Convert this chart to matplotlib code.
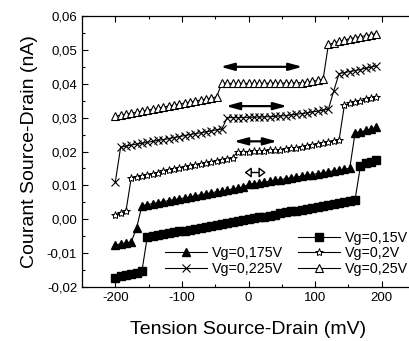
import matplotlib
matplotlib.use("Agg")
import matplotlib.pyplot as plt
from matplotlib.lines import Line2D
from matplotlib.ticker import MultipleLocator, FuncFormatter

plt.rcParams['font.family'] = ['Liberation Sans', 'DejaVu Sans']

x = [-200, -192, -184, -176, -168, -160, -152, -144, -136, -128,
     -120, -112, -104, -96, -88, -80, -72, -64, -56, -48,
     -40, -32, -24, -16, -8, 0, 8, 16, 24, 32,
     40, 48, 56, 64, 72, 80, 88, 96, 104, 112,
     120, 128, 136, 144, 152, 160, 168, 176, 184, 192]

vg015 = [-0.0172, -0.0168, -0.0165, -0.0162, -0.0158, -0.0153, -0.0052, -0.0050, -0.0047, -0.0045,
         -0.0042, -0.0039, -0.0036, -0.0034, -0.0031, -0.0028, -0.0025, -0.0022, -0.0020, -0.0017,
         -0.0014, -0.0011, -0.0008, -0.0006, -0.0003, 0.0000, 0.0003, 0.0006, 0.0008, 0.0011,
         0.0014, 0.0017, 0.0020, 0.0023, 0.0025, 0.0028, 0.0031, 0.0034, 0.0037, 0.0040,
         0.0043, 0.0046, 0.0049, 0.0052, 0.0055, 0.0058, 0.0156, 0.0166, 0.0170, 0.0174]

vg0175 = [-0.0076, -0.0073, -0.0070, -0.0067, -0.0025, 0.0040, 0.0043, 0.0046, 0.0049, 0.0052,
          0.0055, 0.0058, 0.0060, 0.0063, 0.0066, 0.0069, 0.0072, 0.0075, 0.0078, 0.0081,
          0.0083, 0.0086, 0.0089, 0.0092, 0.0095, 0.0103, 0.0105, 0.0107, 0.0110, 0.0112,
          0.0115, 0.0117, 0.0120, 0.0122, 0.0125, 0.0127, 0.0130, 0.0132, 0.0135, 0.0137,
          0.0140, 0.0143, 0.0145, 0.0148, 0.0150, 0.0255, 0.0258, 0.0262, 0.0267, 0.0271]

vg02 = [0.0014, 0.0018, 0.0024, 0.0123, 0.0126, 0.0129, 0.0132, 0.0135, 0.0138, 0.0141,
        0.0144, 0.0148, 0.0151, 0.0154, 0.0157, 0.0160, 0.0163, 0.0166, 0.0169, 0.0172,
        0.0176, 0.0179, 0.0182, 0.0200, 0.0200, 0.0200, 0.0201, 0.0201, 0.0202, 0.0203,
        0.0204, 0.0205, 0.0207, 0.0209, 0.0211, 0.0213, 0.0215, 0.0218, 0.0221, 0.0224,
        0.0227, 0.0230, 0.0234, 0.0337, 0.0342, 0.0346, 0.0350, 0.0354, 0.0357, 0.0360]

vg0225 = [0.0109, 0.0213, 0.0216, 0.0219, 0.0222, 0.0224, 0.0227, 0.0230, 0.0233, 0.0235,
          0.0238, 0.0241, 0.0244, 0.0247, 0.0250, 0.0253, 0.0255, 0.0258, 0.0261, 0.0264,
          0.0266, 0.0300, 0.0300, 0.0300, 0.0300, 0.0301, 0.0301, 0.0302, 0.0302, 0.0303,
          0.0304, 0.0305, 0.0306, 0.0308, 0.0310, 0.0312, 0.0314, 0.0317, 0.0319, 0.0322,
          0.0325, 0.0379, 0.0430, 0.0433, 0.0436, 0.0439, 0.0442, 0.0446, 0.0449, 0.0453]

vg025 = [0.0304, 0.0307, 0.0310, 0.0313, 0.0316, 0.0319, 0.0322, 0.0325, 0.0328, 0.0331,
         0.0334, 0.0337, 0.0340, 0.0343, 0.0346, 0.0349, 0.0352, 0.0355, 0.0358, 0.0361,
         0.0402, 0.0401, 0.0401, 0.0401, 0.0401, 0.0401, 0.0401, 0.0401, 0.0401, 0.0402,
         0.0402, 0.0402, 0.0402, 0.0402, 0.0403, 0.0403, 0.0405, 0.0407, 0.0410, 0.0413,
         0.0516, 0.0520, 0.0525, 0.0529, 0.0533, 0.0536, 0.0539, 0.0542, 0.0545, 0.0548]

labels = ['Vg=0,15V', 'Vg=0,175V', 'Vg=0,2V', 'Vg=0,225V', 'Vg=0,25V']

# double arrows: (x_start, x_end, y)
arrows_x0 = [-42, -34, -22, -6]
arrows_x1 = [81, 58, 43, 26]
arrows_y = [0.0450, 0.0334, 0.0230, 0.0138]

fig = plt.figure(figsize=(4.09, 3.41), dpi=100)
ax = fig.add_axes([82/409, 54/341, 333/409, 271/341])

lw = 0.8
h1, = ax.plot(x, vg015, color='black', lw=lw, marker='s', ms=5.3, mfc='black', mec='black')
h2, = ax.plot(x, vg0175, color='black', lw=lw, marker='^', ms=5.6, mfc='black', mec='black')
h3, = ax.plot(x, vg02, color='black', lw=lw, marker='*', ms=6, mfc='white', mec='black', mew=0.7)
h4, = ax.plot(x, vg0225, color='black', lw=lw, marker='x', ms=5.2, mec='black', mew=0.8)
h5, = ax.plot(x, vg025, color='black', lw=lw, marker='^', ms=5.6, mfc='white', mec='black', mew=0.8)

for i in range(3):
    ax.annotate('', xy=(arrows_x1[i], arrows_y[i]), xytext=(arrows_x0[i], arrows_y[i]),
                arrowprops=dict(arrowstyle='<|-|>,head_length=0.8,head_width=0.22',
                                color='black', lw=1.6, shrinkA=0, shrinkB=0))
ax.annotate('', xy=(arrows_x1[3], arrows_y[3]), xytext=(arrows_x0[3], arrows_y[3]),
            arrowprops=dict(arrowstyle='<|-|>,head_length=0.4,head_width=0.3',
                            facecolor='white', edgecolor='black', lw=1.0, shrinkA=0, shrinkB=0))

ax.set_xlim(-250, 250)
ax.set_ylim(-0.02, 0.06)
ax.xaxis.set_major_locator(MultipleLocator(100))
ax.xaxis.set_minor_locator(MultipleLocator(50))
ax.yaxis.set_major_locator(MultipleLocator(0.01))
ax.yaxis.set_minor_locator(MultipleLocator(0.005))
ax.xaxis.set_major_formatter(FuncFormatter(lambda v, p: '%d' % round(v)))
ax.yaxis.set_major_formatter(FuncFormatter(lambda v, p: ('%.2f' % v).replace('.', ',')))
ax.tick_params(which='both', direction='in', top=True, right=False, labelsize=9.5, width=0.8)
ax.tick_params(which='major', length=4)
ax.tick_params(which='minor', length=2.5)
for s in ax.spines.values():
    s.set_linewidth(0.9)
ax.spines['right'].set_visible(False)

ax.set_xlabel('Tension Source-Drain (mV)', fontsize=14, labelpad=12)
ax.set_ylabel('Courant Source-Drain (nA)', fontsize=14, labelpad=6)

blank = Line2D([], [], color='none')
handles = [blank, h2, h4, h1, h3, h5]
leg_labels = ['', labels[1], labels[3], labels[0], labels[2], labels[4]]
ax.legend(handles, leg_labels, ncol=2, loc='lower right', bbox_to_anchor=(408/409, 65/341),
          bbox_transform=fig.transFigure, frameon=False, fontsize=10.3, handlelength=2.9,
          handletextpad=0.35, columnspacing=1.1, labelspacing=0.12, borderaxespad=0, borderpad=0)

fig.savefig('out.png', dpi=100)
